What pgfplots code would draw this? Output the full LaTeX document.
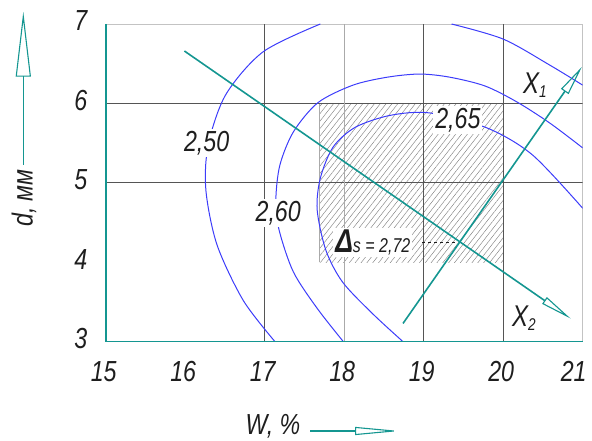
\documentclass[border=0pt]{standalone}
\usepackage{fontspec}
\setmainfont{Liberation Sans}
\newfontfamily\gost[FakeStretch=0.8]{Liberation Sans}
\usepackage{pgfplots}
\pgfplotsset{compat=1.18}
\usetikzlibrary{arrows.meta,patterns.meta}
\definecolor{tealc}{RGB}{20,150,145}
\definecolor{bluec}{RGB}{60,60,250}
\definecolor{gridd}{RGB}{85,85,85}
\definecolor{gridl}{RGB}{170,170,170}
\definecolor{bordc}{RGB}{195,195,195}
\definecolor{hatchc}{RGB}{130,130,130}
\definecolor{txt}{RGB}{30,30,30}
\newcommand{\tf}{\gost\itshape\fontsize{29}{29}\selectfont}
\begin{document}
\begin{tikzpicture}
\useasboundingbox (0,0) rectangle (592pt,441pt);
\begin{axis}[
  name=ax,
  at={(105.7pt,99.3pt)}, anchor=south west,
  scale only axis, width=477pt, height=317.7pt,
  xmin=15, xmax=21, ymin=3, ymax=7,
  xtick={15,16,17,18,19,20,21}, ytick={3,4,5,6,7},
  xticklabels={15,16,17,18,19,20,{\hspace*{-14pt}21}},
  yticklabels={3,4,5,6,7},
  major tick length=0pt,
  axis line style={draw=bordc, line width=0.8pt},
  xticklabel style={font=\tf, text=txt, yshift=-16pt, xshift=-2pt},
  yticklabel style={font=\tf, text=txt, xshift=-15pt, yshift=3pt},
]
% hatched zone
\fill[pattern={Lines[angle=52,distance=4.6pt,line width=0.45pt]}, pattern color=hatchc] (axis cs:17.69,4) rectangle (axis cs:20,6);
\draw[gridl, line width=0.8pt] (axis cs:17.69,4) -- (axis cs:17.69,6);
% grid
\draw[gridd, line width=0.7pt] (axis cs:15,5) -- (axis cs:21,5);
\draw[gridd, line width=0.7pt] (axis cs:15,6) -- (axis cs:21,6);
\draw[gridd, line width=0.7pt] (axis cs:17,3) -- (axis cs:17,7);
\draw[gridd, line width=0.7pt] (axis cs:19,3) -- (axis cs:19,7);
\draw[gridd, line width=0.7pt] (axis cs:20,3) -- (axis cs:20,7);
\draw[gridl, line width=0.7pt] (axis cs:18,3) -- (axis cs:18,7);
% contour 2.50
\addplot[bluec, line width=1pt, smooth] coordinates {
(17.70,7.00) (16.98,6.65) (16.51,6.11) (16.29,5.48) (16.26,4.91) (16.40,4.22) (16.73,3.52) (17.13,3.00)};
\addplot[bluec, line width=1pt, smooth] coordinates {
(19.35,7.00) (20.00,6.81) (20.59,6.48) (21.00,6.23)};
% contour 2.60
\addplot[bluec, line width=1pt, smooth] coordinates {
(17.99,3.00) (17.66,3.42) (17.36,3.88) (17.18,4.41) (17.14,4.78) (17.19,5.22) (17.36,5.64) (17.67,6.01) (18.11,6.23) (18.54,6.33) (18.95,6.37) (19.33,6.33) (19.77,6.22) (20.17,6.02) (20.59,5.75) (21.00,5.44)};
% contour 2.65
\addplot[bluec, line width=1pt, smooth] coordinates {
(18.74,3.00) (18.36,3.35) (17.98,3.75) (17.77,4.15) (17.66,4.66) (17.70,5.06) (17.86,5.45) (18.14,5.70) (18.58,5.85) (19.08,5.88) (19.80,5.69) (20.37,5.35) (21.00,4.68)};
% directions X1, X2
\addplot[tealc, line width=1.6pt, -{Triangle[open, length=30pt, width=9pt, line width=1.1pt]}] coordinates {(18.74,3.23) (20.99,6.46)};
\addplot[tealc, line width=1.6pt, -{Triangle[open, length=32pt, width=8pt, line width=1.1pt]}] coordinates {(15.99,6.66) (20.85,3.29)};
% leader
\draw[txt, line width=0.4pt, dashed] (axis cs:18.98,4.25) -- (axis cs:19.42,4.25);
% labels
\node[fill=white, inner sep=2pt, text=txt, font=\tf] at (axis cs:16.27,5.50) {2,50};
\node[fill=white, inner sep=2pt, text=txt, font=\tf] at (axis cs:17.17,4.62) {2,60};
\node[fill=white, inner sep=2pt, text=txt, font=\tf] at (axis cs:19.43,5.79) {2,65};
\node[text=txt, font=\gost\itshape\fontsize{30}{30}\selectfont] at (axis cs:20.40,6.23) {X\raisebox{-4pt}{\fontsize{17}{17}\selectfont 1}};
\node[text=txt, font=\gost\itshape\fontsize{30}{30}\selectfont] at (axis cs:20.26,3.30) {X\raisebox{-4pt}{\fontsize{17}{17}\selectfont 2}};
\node[fill=white, inner sep=2pt, text=txt] at (axis cs:18.36,4.25) {\gost\itshape{\bfseries\fontsize{33}{33}\selectfont Δ}\fontsize{20}{20}\selectfont s = 2,72};
\end{axis}
\draw[tealc, line width=1.6pt] (ax.north west) -- (ax.south west) -- (ax.south east);
\draw[tealc, line width=1.4pt, -{Triangle[open,length=65pt,width=15pt,line width=1.1pt]}] (23.3pt,276pt) -- (23.3pt,429.3pt);
\draw[tealc, line width=1.4pt, -{Triangle[open,length=45pt,width=8pt,line width=1.1pt]}] (310pt,10pt) -- (400pt,10pt);
\node[rotate=90, font=\tf, text=txt] at (24pt,243pt) {d, мм};
\node[font=\tf, text=txt] at (273pt,15pt) {W, \%};
\end{tikzpicture}
\end{document}
